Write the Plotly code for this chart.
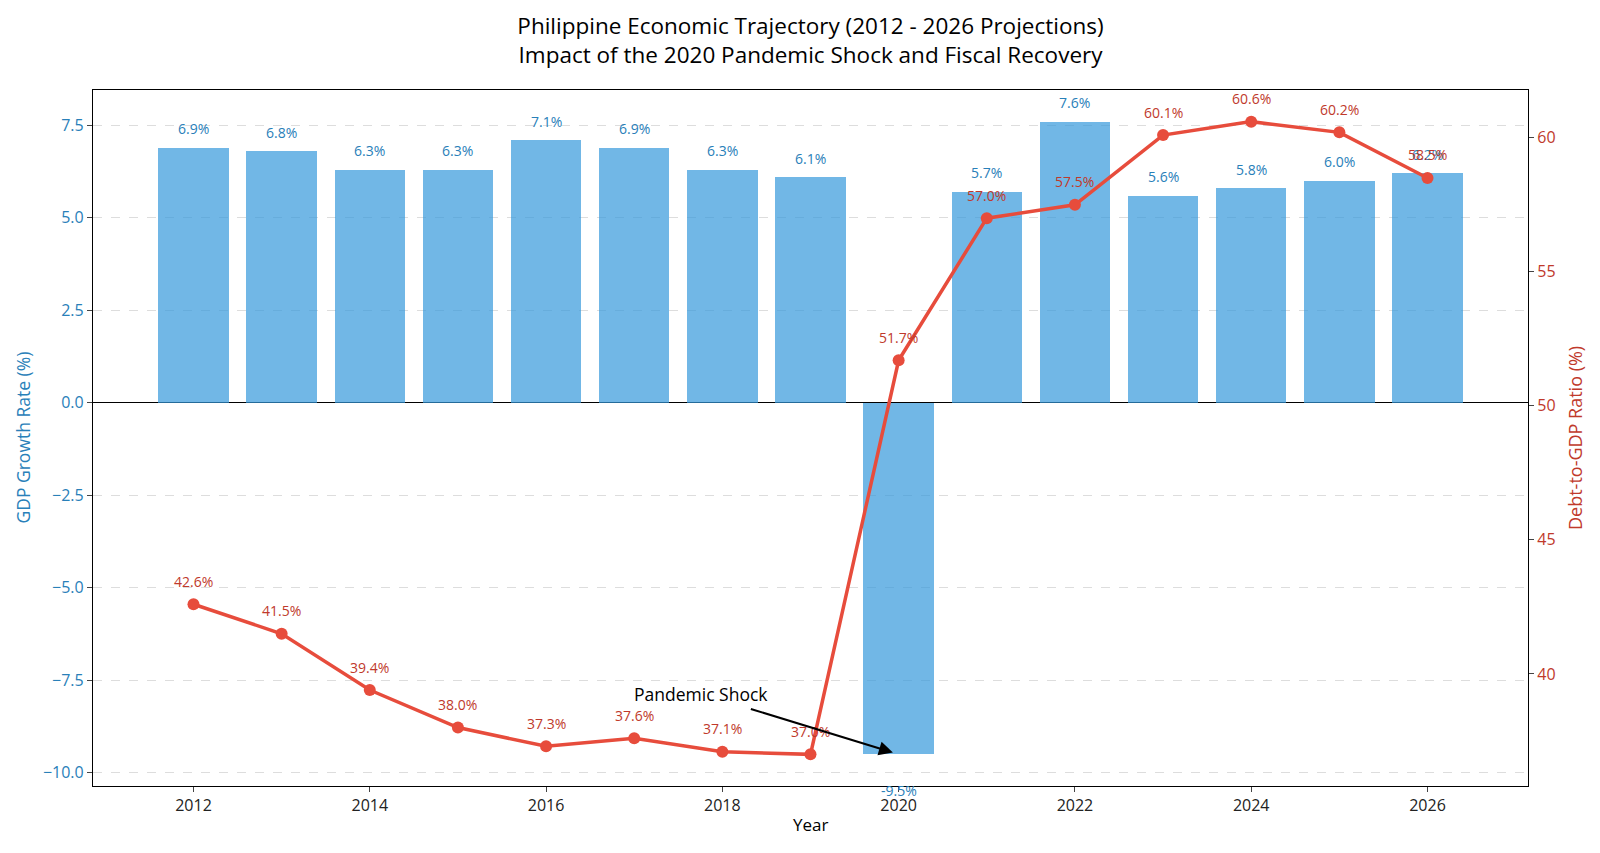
import plotly.graph_objects as go

# ---- data ----
years = list(range(2012, 2027))
gdp_growth = [6.9, 6.8, 6.3, 6.3, 7.1, 6.9, 6.3, 6.1, -9.5, 5.7, 7.6, 5.6, 5.8, 6.0, 6.2]
debt_ratio = [42.6, 41.5, 39.4, 38.0, 37.3, 37.6, 37.1, 37.0, 51.7, 57.0, 57.5, 60.1, 60.6, 60.2, 58.5]
x_ticks = list(range(2012, 2027, 2))
gdp_ticks = [-10.0, -7.5, -5.0, -2.5, 0.0, 2.5, 5.0, 7.5]
debt_ticks = [40, 45, 50, 55, 60]

title_l1 = "Philippine Economic Trajectory (2012 - 2026 Projections)"
title_l2 = "Impact of the 2020 Pandemic Shock and Fiscal Recovery"

FONT = "Open Sans"
BAR_COLOR = "rgba(52,152,219,0.7)"
LINE_COLOR = "#e74c3c"
BLUE_TXT = "#2980b9"
RED_TXT = "#c0392b"
BAR_W = 0.8


def padded(lo, hi, frac=0.05):
    span = hi - lo
    return [lo - frac * span, hi + frac * span]


x_range = padded(years[0] - BAR_W / 2, years[-1] + BAR_W / 2)
y1_range = padded(min(min(gdp_growth), 0), max(max(gdp_growth), 0))
y2_range = padded(min(debt_ratio), max(debt_ratio))

fig = go.Figure()
fig.add_trace(go.Bar(
    x=years, y=gdp_growth, width=BAR_W, marker=dict(color=BAR_COLOR, line=dict(width=0)),
    name="GDP Growth Rate (%)", yaxis="y", showlegend=False,
))
fig.add_trace(go.Scatter(
    x=years, y=debt_ratio, mode="lines+markers", yaxis="y2",
    line=dict(color=LINE_COLOR, width=3.5), marker=dict(color=LINE_COLOR, size=12),
    name="Debt-to-GDP Ratio (%)", showlegend=False,
))

annotations = []
for yr, v in zip(years, gdp_growth):
    annotations.append(dict(
        x=yr, y=v, xref="x", yref="y", text=f"{v:.1f}%", showarrow=False,
        yanchor="middle", yshift=19 if v >= 0 else -36,
        font=dict(family=FONT, size=14, color=BLUE_TXT),
    ))
for yr, v in zip(years, debt_ratio):
    annotations.append(dict(
        x=yr, y=v, xref="x", yref="y2", text=f"{v:.1f}%", showarrow=False,
        yanchor="middle", yshift=23,
        font=dict(family=FONT, size=14, color=RED_TXT),
    ))

# Pandemic shock arrow
shock_i = years.index(2020)
annotations.append(dict(
    x=years[shock_i], y=gdp_growth[shock_i], xref="x", yref="y",
    ax=2017.76, ay=-7.86, axref="x", ayref="y",
    text="Pandemic Shock", showarrow=True, arrowhead=2, arrowsize=1.4,
    arrowwidth=2, arrowcolor="black", standoff=6, startstandoff=6,
    font=dict(family=FONT, size=17.5, color="black"),
))

# axis titles
annotations.append(dict(x=0.5, y=0, xref="paper", yref="paper", text="Year", showarrow=False,
                        yanchor="middle", yshift=-38.5, font=dict(family=FONT, size=17, color="black")))
annotations.append(dict(x=0, y=0.5, xref="paper", yref="paper", text="GDP Growth Rate (%)",
                        showarrow=False, textangle=-90, xanchor="center", xshift=-70.5,
                        font=dict(family=FONT, size=17.5, color=BLUE_TXT)))
annotations.append(dict(x=1, y=0.5, xref="paper", yref="paper", text="Debt-to-GDP Ratio (%)",
                        showarrow=False, textangle=-90, xanchor="center", xshift=47,
                        font=dict(family=FONT, size=18, color=RED_TXT)))

fig.update_layout(
    width=1600, height=853,
    margin=dict(l=93, r=72, t=90, b=67, autoexpand=False),
    paper_bgcolor="white", plot_bgcolor="white",
    font=dict(family=FONT),
    title=dict(text=f"{title_l1}<br>{title_l2}", x=0.5, xref="paper", xanchor="center",
               y=1 - 34 / 853, yref="container", yanchor="middle",
               font=dict(family=FONT, size=22.5, color="black")),
    bargap=0,
    xaxis=dict(range=x_range, tickvals=x_ticks, ticktext=[str(t) for t in x_ticks],
               showgrid=False, zeroline=False, showline=True, linecolor="black", linewidth=1.2,
               mirror=True, ticks="outside", ticklen=5, tickcolor="#444",
               tickfont=dict(family=FONT, size=16, color="#222")),
    yaxis=dict(range=y1_range, tickvals=gdp_ticks, ticktext=[f"{t:.1f}".replace("-", "−") for t in gdp_ticks],
               showgrid=True, gridcolor="#dddddd", griddash="dash", gridwidth=1,
               zeroline=True, zerolinecolor="black", zerolinewidth=1.2,
               showline=True, linecolor="black", linewidth=1.2, mirror=True,
               ticks="outside", ticklen=5, tickcolor="#444",
               tickfont=dict(family=FONT, size=16, color=BLUE_TXT)),
    yaxis2=dict(range=y2_range, tickvals=debt_ticks, ticktext=[str(t) for t in debt_ticks],
                overlaying="y", side="right", showgrid=False, zeroline=False,
                showline=True, linecolor="black", linewidth=1.2,
                ticks="outside", ticklen=5, tickcolor="#444",
                tickfont=dict(family=FONT, size=16, color=RED_TXT)),
    annotations=annotations,
)

fig.write_html("out.html")
